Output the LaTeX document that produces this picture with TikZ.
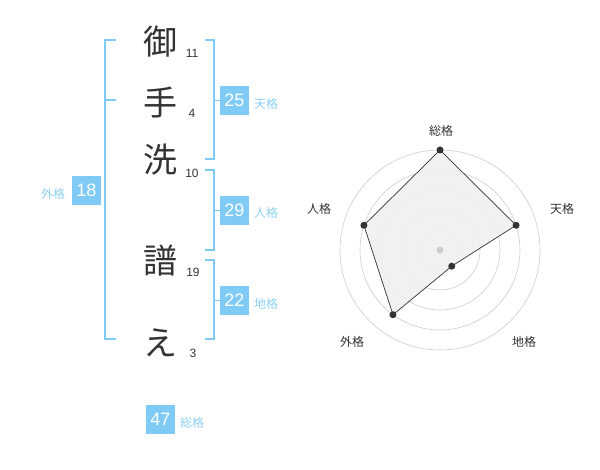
\documentclass[tikz,border=0pt]{standalone}
\usepackage{fontspec}
\setmainfont{Liberation Sans}
\newfontfamily\jp{Noto Sans CJK JP}
\definecolor{boxblue}{HTML}{7FCBF5}
\definecolor{lblblue}{HTML}{8ED0F2}
\definecolor{ink}{HTML}{333333}
\definecolor{ringgrey}{HTML}{CCCCCC}
\tikzset{
  kanji/.style={text=ink,inner sep=0pt,font=\jp\fontsize{34}{34}\selectfont},
  strokes/.style={text=ink,inner sep=0pt,font=\fontsize{12}{12}\selectfont},
  valbox/.style={fill=boxblue,text=white,minimum width=29pt,minimum height=29pt,inner sep=0pt,font=\fontsize{18}{18}\selectfont},
  kaku/.style={text=lblblue,inner sep=0pt,font=\jp\fontsize{12}{12}\selectfont},
  brk/.style={draw=boxblue,line width=1.6pt},
  ring/.style={draw=ringgrey,line width=0.6pt},
  axlabel/.style={text=ink,inner sep=0pt,font=\jp\fontsize{12}{12}\selectfont},
  pt/.style={circle,fill=ink,inner sep=0pt,minimum size=7pt},
}
\begin{document}
\begin{tikzpicture}[x=1pt,y=-1pt]
\useasboundingbox (0,0) rectangle (600,470);
% name characters
\node[kanji] (c1) at (160,42) {御};
\node[kanji] (c2) at (160,103) {手};
\node[kanji] (c3) at (160,160) {洗};
\node[kanji] (c4) at (160,261) {譜};
\node[kanji] (c5) at (160,343) {え};
\node[strokes] (n1) at (192,53) {11};
\node[strokes] (n2) at (192,113) {4};
\node[strokes] (n3) at (192,173) {10};
\node[strokes] (n4) at (193,272) {19};
\node[strokes] (n5) at (193,353) {3};
% brackets
\coordinate (la) at (116,40); \coordinate (lb) at (105,40);
\coordinate (lc) at (105,339); \coordinate (ld) at (116,339);
\coordinate (le) at (105,100); \coordinate (lf) at (116,100);
\draw[brk] (la) -- (lb) -- (lc) -- (ld);
\draw[brk] (le) -- (lf);
% value boxes
\node[valbox] (ten) at (234.5,100.5) {25};
\node[valbox] (jin) at (234.5,210.5) {29};
\node[valbox] (chi) at (234.5,300.5) {22};
\node[valbox] (gai) at (86.5,190.5) {18};
\node[valbox] (sou) at (160.5,419) {47};
\node[kaku] (tenl) at (266,104) {天格};
\node[kaku] (jinl) at (266,213) {人格};
\node[kaku] (chil) at (266,304) {地格};
\node[kaku] (gail) at (53,194) {外格};
\node[kaku] (soul) at (192,423) {総格};
% right brackets
\coordinate (t1) at (205,40); \coordinate (t2) at (214,40);
\coordinate (t3) at (214,159); \coordinate (t4) at (205,159);
\draw[brk] (t1) -- (t2) -- (t3) -- (t4);
\coordinate (tm) at (214,100.5);
\draw[brk] (tm) -- (ten.west);
\coordinate (j1) at (205,170); \coordinate (j2) at (214,170);
\coordinate (j3) at (214,250); \coordinate (j4) at (205,250);
\draw[brk] (j1) -- (j2) -- (j3) -- (j4);
\coordinate (jm) at (214,210.5);
\draw[brk] (jm) -- (jin.west);
\coordinate (k1) at (205,260); \coordinate (k2) at (214,260);
\coordinate (k3) at (214,339); \coordinate (k4) at (205,339);
\draw[brk] (k1) -- (k2) -- (k3) -- (k4);
\coordinate (km) at (214,300.5);
\draw[brk] (km) -- (chi.west);
% radar chart
\coordinate (O) at (440,250);
\foreach \r in {20,40,60,80,100} \draw[ring] (O) circle[radius=\r];
\path (O) ++(0,-100) coordinate (pS);
\path (O) ++({80*cos(18)},{-80*sin(18)}) coordinate (pT);
\path (O) ++({20*cos(-54)},{-20*sin(-54)}) coordinate (pC);
\path (O) ++({80*cos(234)},{-80*sin(234)}) coordinate (pG);
\path (O) ++({80*cos(162)},{-80*sin(162)}) coordinate (pJ);
\fill[black!6,opacity=0.9] (pS) -- (pT) -- (pC) -- (pG) -- (pJ) -- cycle;
\draw[ink,line width=0.7pt] (pS) -- (pT) -- (pC) -- (pG) -- (pJ) -- cycle;
\node[circle,fill=ringgrey,inner sep=0pt,minimum size=7pt] (ctr) at (O) {};
\node[pt] (dS) at (pS) {};
\node[pt] (dT) at (pT) {};
\node[pt] (dC) at (pC) {};
\node[pt] (dG) at (pG) {};
\node[pt] (dJ) at (pJ) {};
\node[axlabel] (aS) at (441,131) {総格};
\node[axlabel] (aT) at (562,209) {天格};
\node[axlabel] (aC) at (524,342) {地格};
\node[axlabel] (aG) at (352,342) {外格};
\node[axlabel] (aJ) at (319,209) {人格};
\end{tikzpicture}
\end{document}
